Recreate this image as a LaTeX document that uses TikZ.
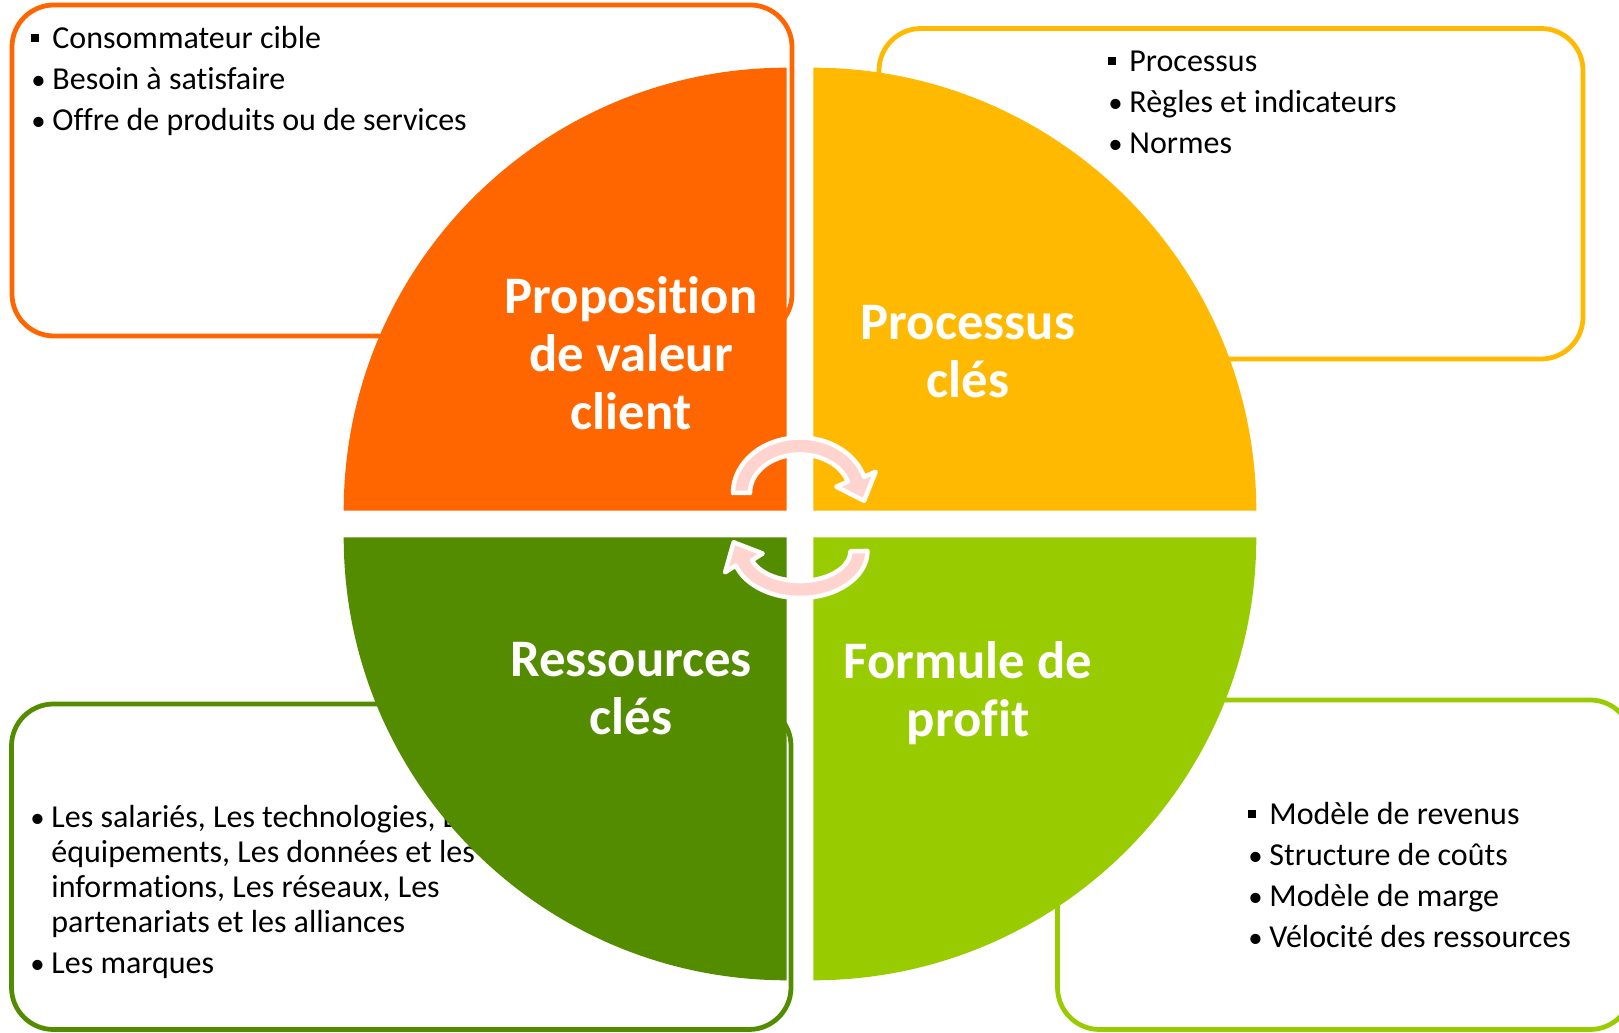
\documentclass[tikz,border=0pt]{standalone}
\usepackage{fontspec}
\setmainfont{Carlito}[Ligatures=NoCommon]
\usepackage{graphicx}
\usepackage{tikz}
\usepackage{xcolor}
\usetikzlibrary{positioning}

\definecolor{quadorange}{RGB}{255,102,0}
\definecolor{quadyellow}{RGB}{255,185,0}
\definecolor{quadgreen}{RGB}{84,140,0}
\definecolor{quadlime}{RGB}{153,204,0}
\definecolor{arrowpink}{RGB}{255,212,207}

\newcommand{\sqbullet}{\raisebox{4.2pt}{\rule{4.4pt}{4.4pt}}}
\newcommand{\rdbullet}{\scalebox{0.9}{\textbullet}}

\begin{document}
\begin{tikzpicture}[x=0.2mm, y=0.2mm,
	infobox/.style={fill=white, line width=0.95mm, rounded corners=8.4mm},
	itemlist/.style={anchor=base west, inner sep=0pt, font=\fontsize{18.2}{19.9}\selectfont},
	quadtitle/.style={text=white, align=center, inner sep=0pt, font=\fontsize{30}{33}\selectfont\bfseries},
	cyclearrow/.style={fill=arrowpink, draw=white, line width=0.9mm, line join=round}]
	\useasboundingbox (0, 0) rectangle (1619, 1032);
	\clip (0, 0) rectangle (1619, 1032);

	\draw[infobox, draw=quadorange] (12, 696) rectangle (792, 1027);  % top left box
	\draw[infobox, draw=quadyellow] (879, 673) rectangle (1583, 1003.5);  % top right box
	\draw[infobox, draw=quadgreen] (11.5, 2.5) rectangle (791, 328);  % bottom left box
	\draw[infobox, draw=quadlime] (1057.5, 2.5) rectangle (1632, 332);  % bottom right box

	\node[itemlist] (valueitems) at (31, 983) {\begin{tabular}[t]{@{}p{12pt}@{}l@{}}
		\sqbullet & Consommateur cible\\[3.4pt]
		\rdbullet & Besoin à satisfaire\\[3.4pt]
		\rdbullet & Offre de produits ou de services
	\end{tabular}};
	\node[itemlist] (processitems) at (1108, 960) {\begin{tabular}[t]{@{}p{12pt}@{}l@{}}
		\sqbullet & Processus\\[3.4pt]
		\rdbullet & Règles et indicateurs\\[3.4pt]
		\rdbullet & Normes
	\end{tabular}};
	\node[itemlist] (resourceitems) at (30, 204) {\begin{tabular}[t]{@{}p{12pt}@{}l@{}}
		\rdbullet & Les salariés, Les technologies, Les\\
		& équipements, Les données et les\\
		& informations, Les réseaux, Les\\
		& partenariats et les alliances\\[3.4pt]
		\rdbullet & Les marques
	\end{tabular}};
	\node[itemlist] (profititems) at (1248, 207) {\begin{tabular}[t]{@{}p{12pt}@{}l@{}}
		\sqbullet & Modèle de revenus\\[3.4pt]
		\rdbullet & Structure de coûts\\[3.4pt]
		\rdbullet & Modèle de marge\\[3.4pt]
		\rdbullet & Vélocité des ressources
	\end{tabular}};

	\fill[quadorange] (786.7, 521.3) -- (343.7, 521.3) arc[start angle=180, end angle=90, radius=443] -- cycle;
	\fill[quadyellow] (813.3, 521.3) -- (813.3, 964.3) arc[start angle=90, end angle=0, radius=443] -- cycle;
	\fill[quadgreen] (786.7, 494.7) -- (343.7, 494.7) arc[start angle=180, end angle=270, radius=443] -- cycle;
	\fill[quadlime] (813.3, 494.7) -- (1256.3, 494.7) arc[start angle=0, end angle=-90, radius=443] -- cycle;

	\node[quadtitle] (valueprop) at (631, 679) {Proposition\\de valeur\\client};
	\node[quadtitle] (keyprocess) at (968, 680) {Processus\\clés};
	\node[quadtitle] (keyresource) at (631, 343) {Ressources\\clés};
	\node[quadtitle] (profitformula) at (968, 339) {Formule de\\profit};

	\begin{scope}[shift={(800, 539)}]  % upper turn
		\draw[cyclearrow] (-67, 0) arc[start angle=180, end angle=17, x radius=67, y radius=55.5]
			-- (75.6, 21.2) -- (64.1, -7.8) -- (36.3, 6.3) -- (47.8, 11.3)
			arc[start angle=17, end angle=180, x radius=50, y radius=38.5] -- cycle;
	\end{scope}
	\begin{scope}[shift={(800, 481)}]  % lower turn
		\draw[cyclearrow] (67.5, 0) arc[start angle=0, end angle=-162, x radius=67.5, y radius=47]
			-- (-74.9, -21.3) -- (-66.4, 8.7) -- (-37.3, -2.5) -- (-48.0, -9.3)
			arc[start angle=-162, end angle=0, x radius=50.5, y radius=30] -- cycle;
	\end{scope}

\end{tikzpicture}
\end{document}
